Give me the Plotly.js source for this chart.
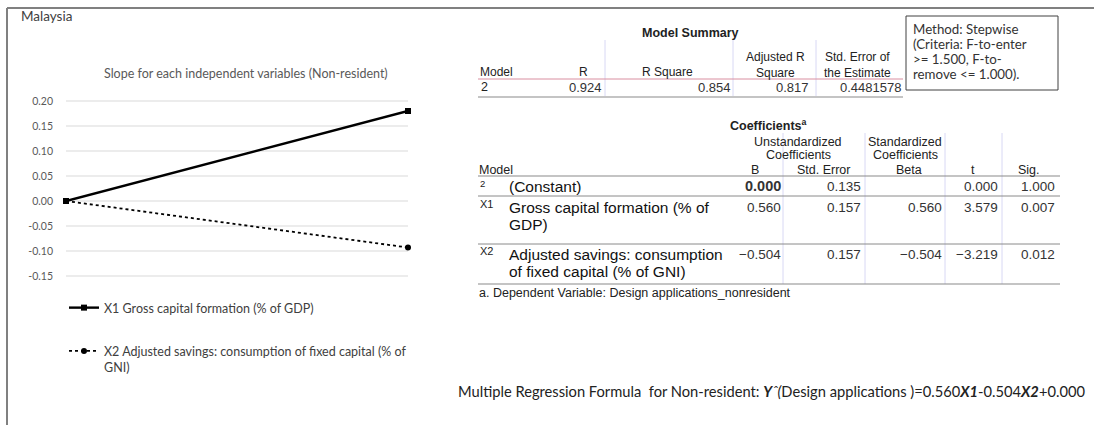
<!DOCTYPE html>
<html><head><meta charset="utf-8">
<script src="https://cdn.plot.ly/plotly-3.0.1.min.js"></script>
<style>html,body{margin:0;padding:0;background:#fff}#chart{width:1094px;height:425px}</style>
</head><body><div id="chart"></div>
<script>
// ---- chart data ----
const xPositions = [0, 1];
const x1Slope = [0, 0.18];
const x2Slope = [0, -0.093];
const x1Name = "X1 Gross capital formation (% of GDP)";
const x2Name = "X2 Adjusted savings: consumption of fixed capital (% of<br>GNI)";
const yTickVals = [0.20, 0.15, 0.10, 0.05, 0.00, -0.05, -0.10, -0.15];
const yTickText = ["0.20", "0.15", "0.10", "0.05", "0.00", "-0.05", "-0.10", "-0.15"];

// ---- model summary table ----
const msHeaders = ["Model", "R", "R Square", "Adjusted R<br>Square", "Std. Error of<br>the Estimate"];
const msRow = ["2", "0.924", "0.854", "0.817", "0.4481578"];
const methodNote = ["Method: Stepwise", "(Criteria: F-to-enter", ">= 1.500, F-to-", "remove <= 1.000)."];

// ---- coefficients table ----
const coefIds = ["2", "X1", "X2"];
const coefLabels = [["(Constant)"], ["Gross capital formation (% of", "GDP)"], ["Adjusted savings: consumption", "of fixed capital (% of GNI)"]];
const coefB = ["0.000", "0.560", "\u22120.504"];
const coefSE = ["0.135", "0.157", "0.157"];
const coefBeta = ["", "0.560", "\u22120.504"];
const coefT = ["0.000", "3.579", "\u22123.219"];
const coefSig = ["1.000", "0.007", "0.012"];
const formulaText = "Multiple Regression Formula  for Non-resident: <b><i>Y</i></b><i>\u02c6(</i>Design applications )=0.560<b><i>X1</i></b>-0.504<b><i>X2</i></b>+0.000";

// ---- helpers (pixel -> paper) ----
const W = 1094, H = 425;
const px = x => x / W;
const py = y => 1 - y / H;
const ann = [];
const shp = [];
function T(text, x, y, o = {}) {
  ann.push({
    text, x: px(x), y: py(y), xref: 'paper', yref: 'paper', showarrow: false,
    xanchor: o.xa || 'left', yanchor: o.ya || 'middle', align: o.align || (o.xa === 'right' ? 'right' : (o.xa === 'center' ? 'center' : 'left')),
    font: {family: o.family || 'Liberation Sans, Arial, sans-serif', size: o.size || 12, color: o.color || '#222'},
    borderpad: 0
  });
}
function L(x0, y0, x1, y1, color, width) {
  shp.push({type: 'line', xref: 'paper', yref: 'paper', x0: px(x0), y0: py(y0), x1: px(x1), y1: py(y1),
    line: {color, width}});
}

// frame
L(7, 8, 7, 425, '#808080', 2);
L(7, 8, 1094, 8, '#808080', 2);

// explicit gridlines at each tick (through the y scale)
yTickVals.forEach(v => shp.push({type: 'line', xref: 'x domain', yref: 'y', x0: 0, x1: 1, y0: v, y1: v,
  layer: 'below', line: {color: '#d9d9d9', width: 1}}));

const cal = 'Lato, Open Sans, sans-serif';
T('Malaysia', 20, 16, {family: cal, size: 13.5, color: '#404040'});
T('Slope for each independent variables (Non-resident)', 246, 73, {family: cal, size: 12.5, color: '#595959', xa: 'center'});

// Model summary
T('<b>Model Summary</b>', 690, 33, {xa: 'center', size: 12.5});
const msX = [479, 583, 667, 775, 857];
msHeaders.forEach((h, i) => {
  if (i === 0) T(h, msX[i], 72, {size: 12});
  else if (i >= 3) T(h, msX[i], 65, {xa: 'center', size: 12});
  else T(h, msX[i], 72, {xa: 'center', size: 12});
});
const msRight = [null, 603, 732, 810, 902];
msRow.forEach((v, i) => {
  if (i === 0) T(v, 480, 87, {size: 12.5});
  else T(v, msRight[i], 87, {xa: 'right', size: 13, color: '#333'});
});
[605, 733, 816].forEach(x => L(x, 40, x, 96, '#d8d8f4', 1));
L(478, 79, 903, 79, '#d98ea0', 1);
L(478, 97, 903, 97, '#8a8a8a', 1.2);

// Method note box
shp.push({type: 'rect', xref: 'paper', yref: 'paper', x0: px(906), x1: px(1058), y0: py(90), y1: py(16),
  line: {color: '#404040', width: 1}, fillcolor: 'rgba(0,0,0,0)'});
methodNote.forEach((t, i) => T(t, 912, 29 + i * 15, {family: cal, size: 13.3, color: '#333'}));

// Coefficients
T('<b>Coefficients<sup>a</sup></b>', 768, 125, {xa: 'center', size: 12.5});
T('Unstandardized', 798, 142, {xa: 'center', size: 12.5});
T('Coefficients', 798, 155, {xa: 'center', size: 12.5});
T('Standardized', 905, 142, {xa: 'center', size: 12.5});
T('Coefficients', 905, 155, {xa: 'center', size: 12.5});
T('Model', 478, 170, {size: 12.5});
T('B', 755, 170, {xa: 'center', size: 12.5});
T('Std. Error', 824, 170, {xa: 'center', size: 12.5});
T('Beta', 909, 170, {xa: 'center', size: 12.5});
T('t', 973, 170, {xa: 'center', size: 12.5});
T('Sig.', 1029, 170, {xa: 'center', size: 12.5});
[783, 865, 945, 1002].forEach(x => L(x, 133, x, 284, '#d8d8f4', 1));
L(478, 176, 1060, 176, '#8a8a8a', 1.2);
L(478, 196, 1060, 196, '#8a8a8a', 1);
L(478, 244, 1060, 244, '#8a8a8a', 1);
L(478, 284, 1060, 284, '#8a8a8a', 1.2);
const rowY = [186, 207, 254];
coefIds.forEach((id, r) => {
  T(id, 479, rowY[r] - 3, {size: id === '2' ? 9.5 : 11});
  coefLabels[r].forEach((t, k) => T(t, 508, rowY[r] + k * 17, {size: 15.5, color: '#111'}));
  T(r === 0 ? '<b>' + coefB[r] + '</b>' : coefB[r], 782, rowY[r], {xa: 'right', size: r === 0 ? 14.5 : 13.5, color: '#333'});
  T(coefSE[r], 862, rowY[r], {xa: 'right', size: 13.5, color: '#333'});
  if (coefBeta[r]) T(coefBeta[r], 943, rowY[r], {xa: 'right', size: 13.5, color: '#333'});
  T(coefT[r], 999, rowY[r], {xa: 'right', size: 13.5, color: '#333'});
  T(coefSig[r], 1056, rowY[r], {xa: 'right', size: 13.5, color: '#333'});
});
T('a. Dependent Variable: Design applications_nonresident', 478, 293, {size: 12.5});

// formula
T(formulaText, 457, 391, {family: cal, size: 14.7, color: '#222'});

const traces = [
  {x: xPositions, y: x1Slope, name: x1Name, type: 'scatter', mode: 'lines+markers', legendgroup: 'a',
   line: {color: '#000', width: 2.4}, marker: {symbol: 'square', size: 6, color: '#000'}, cliponaxis: false},
  {x: xPositions, y: x2Slope, name: x2Name, type: 'scatter', mode: 'lines+markers', legendgroup: 'b',
   line: {color: '#000', width: 1.8, dash: 'dot'}, marker: {symbol: 'circle', size: 6, color: '#000'}, cliponaxis: false}
];

// y axis: 500 px per unit, 0.20 at y=101, -0.15 at y=276; range padded so end gridlines draw
const yPad = 0.01;
const layout = {
  width: W, height: H, margin: {l: 0, r: 0, t: 0, b: 0},
  paper_bgcolor: '#fff', plot_bgcolor: '#fff',
  showlegend: true,
  legend: {x: px(64), y: py(293), xanchor: 'left', yanchor: 'top', traceorder: 'grouped', tracegroupgap: 24,
    valign: 'top', font: {family: cal, size: 12.5, color: '#404040'}, bgcolor: 'rgba(0,0,0,0)', itemwidth: 30},
  xaxis: {domain: [px(66), px(408)], range: [0, 1], visible: false, fixedrange: true},
  yaxis: {domain: [py(276 + yPad * 500), py(101 - yPad * 500)], range: [-0.15 - yPad, 0.20 + yPad], tickvals: yTickVals, ticktext: yTickText,
    showgrid: false, zeroline: false, showline: false, ticks: '',
    ticklabelstandoff: 12, tickfont: {family: cal, size: 10.5, color: '#595959'}},
  annotations: ann, shapes: shp
};
Plotly.newPlot('chart', traces, layout, {staticPlot: true, displayModeBar: false});
</script></body></html>
